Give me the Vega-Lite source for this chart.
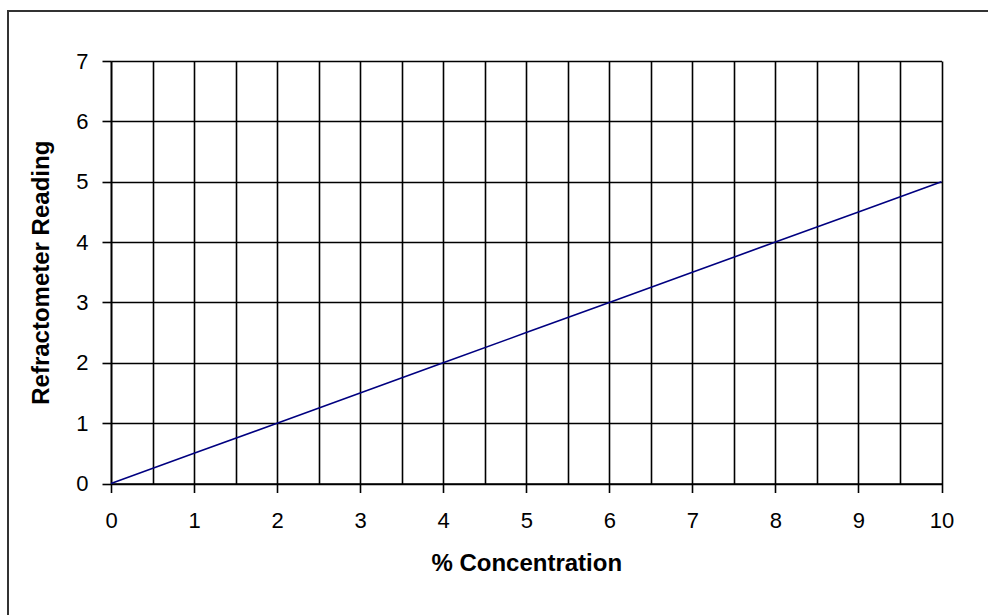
{
  "$schema": "https://vega.github.io/schema/vega-lite/v6.json",
  "autosize": {"type": "none"},
  "padding": {"left": 8, "top": 11, "right": 0, "bottom": 0},
  "width": 981,
  "height": 605,
  "background": "white",
  "config": {
    "view": {"stroke": "#333333", "strokeWidth": 2},
    "axis": {
      "labelFont": "Liberation Sans",
      "labelFontSize": 22,
      "labelColor": "black",
      "titleFont": "Liberation Sans",
      "titleFontSize": 24,
      "titleFontWeight": "bold",
      "titleColor": "black",
      "domainColor": "black",
      "domainWidth": 1.6,
      "tickColor": "black",
      "tickWidth": 1.6,
      "tickSize": 9,
      "gridColor": "black",
      "gridWidth": 1.6,
      "gridOpacity": 1,
      "labelOverlap": false,
      "labelFlush": false
    }
  },
  "data": {
    "values": [
      {"conc": 0, "reading": 0},
      {"conc": 1, "reading": 0.5},
      {"conc": 2, "reading": 1},
      {"conc": 3, "reading": 1.5},
      {"conc": 4, "reading": 2},
      {"conc": 5, "reading": 2.5},
      {"conc": 6, "reading": 3},
      {"conc": 7, "reading": 3.5},
      {"conc": 8, "reading": 4},
      {"conc": 9, "reading": 4.5},
      {"conc": 10, "reading": 5}
    ]
  },
  "resolve": {"axis": {"x": "independent"}},
  "layer": [
    {
      "mark": {"type": "line", "opacity": 0},
      "encoding": {
        "x": {
          "field": "conc",
          "type": "quantitative",
          "scale": {"domain": [0, 10], "range": [103, 933.5], "nice": false, "zero": false},
          "axis": {
            "orient": "top",
            "title": null,
            "grid": true,
            "domain": false,
            "ticks": false,
            "labels": false,
            "values": [0, 0.5, 1, 1.5, 2, 2.5, 3, 3.5, 4, 4.5, 5, 5.5, 6, 6.5, 7, 7.5, 8, 8.5, 9, 9.5, 10]
          }
        },
        "y": {
          "field": "reading",
          "type": "quantitative",
          "scale": {"domain": [0, 7], "range": [472.5, 50], "nice": false, "zero": false},
          "axis": {
            "title": "Refractometer Reading",
            "offset": -103,
            "values": [0, 1, 2, 3, 4, 5, 6, 7],
            "format": "d",
            "labelPadding": 14,
            "titlePadding": 22
          }
        }
      }
    },
    {
      "mark": {"type": "line", "color": "#000080", "strokeWidth": 1.6},
      "encoding": {
        "x": {
          "field": "conc",
          "type": "quantitative",
          "axis": {
            "title": "% Concentration",
            "orient": "bottom",
            "offset": -132.5,
            "grid": false,
            "values": [0, 1, 2, 3, 4, 5, 6, 7, 8, 9, 10],
            "format": "d",
            "labelPadding": 18,
            "titlePadding": 20
          }
        },
        "y": {"field": "reading", "type": "quantitative"}
      }
    }
  ]
}
